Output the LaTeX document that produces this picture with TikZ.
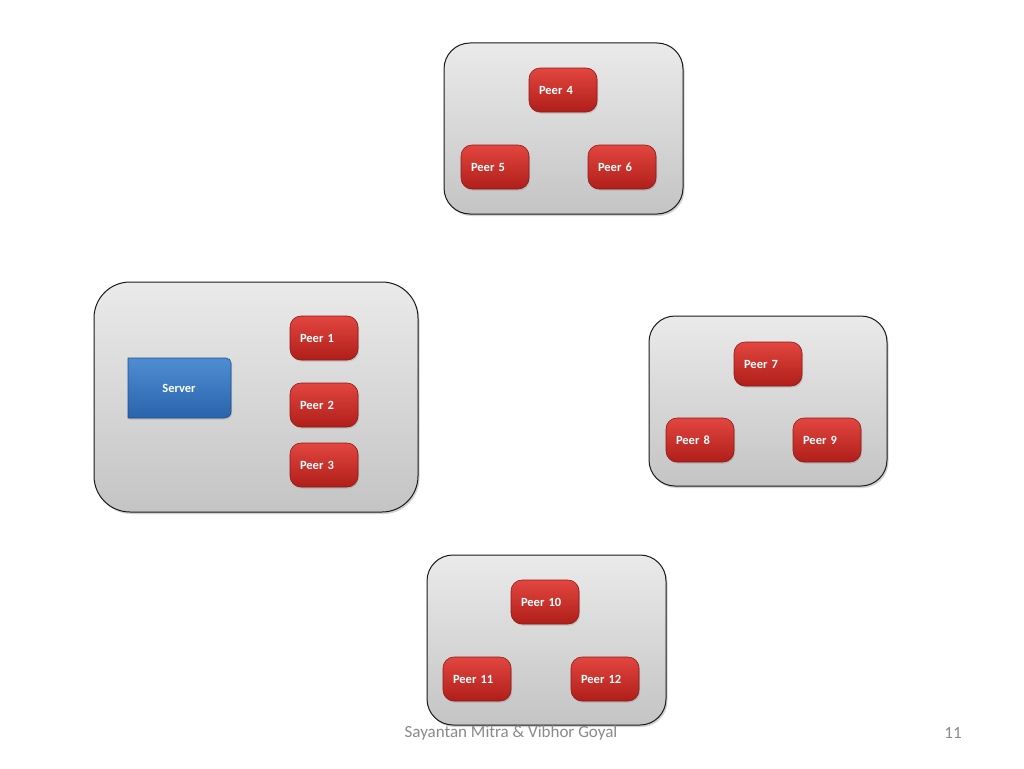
\documentclass[tikz,border=0pt]{standalone}
\usepackage{fontspec}
\setmainfont{Carlito}
\usetikzlibrary{positioning, shadows}
\definecolor{bordegrupo}{HTML}{1A1A1A}
\definecolor{grisclaro}{HTML}{EAEAEA}
\definecolor{grisoscuro}{HTML}{C4C4C4}
\definecolor{rojoclaro}{HTML}{E2463F}
\definecolor{rojooscuro}{HTML}{B01E1A}
\definecolor{rojoborde}{HTML}{8E1A16}
\definecolor{azulclaro}{HTML}{4F8DD2}
\definecolor{azuloscuro}{HTML}{2A64AC}
\definecolor{azulborde}{HTML}{1F4F8A}
\definecolor{pie}{HTML}{8A8A8A}

\begin{document}
\begin{tikzpicture}[x=1pt, y=-1pt,
			group/.style={rounded corners=26pt, draw=bordegrupo, line width=1pt,
			              top color=grisclaro, bottom color=grisoscuro,
			              drop shadow={shadow xshift=1.5pt, shadow yshift=-2pt, opacity=0.35}},
			peer/.style={rounded corners=11pt, draw=rojoborde, line width=0.6pt,
			             top color=rojoclaro, bottom color=rojooscuro,
			             minimum width=68pt, minimum height=44pt, inner sep=0pt,
			             text width=48pt, align=left,
			             text=white, font=\fontsize{12.5}{14}\selectfont\bfseries,
			             drop shadow={shadow xshift=1pt, shadow yshift=-1.5pt, opacity=0.3}},
			serverbox/.style={draw=azulborde, line width=0.6pt,
			                  top color=azulclaro, bottom color=azuloscuro,
			                  drop shadow={shadow xshift=1pt, shadow yshift=-1.5pt, opacity=0.3}}]
	\useasboundingbox[fill=white] (0,0) rectangle (1024,768);
	% grupos
	\node[group, minimum width=239pt, minimum height=171pt] (top) at (563.5,128.5) {};
	\node[group, rounded corners=36pt, minimum width=324pt, minimum height=230pt] (left) at (256,397) {};
	\node[group, minimum width=238pt, minimum height=170pt] (right) at (768,401) {};
	\node[group, minimum width=239pt, minimum height=170pt] (bottom) at (546.5,640) {};
	% servidor
	\path[serverbox] (128,358) -- (226,358) to[out=0,in=90] (231,363) -- (231,412)
		to[out=-90,in=0] (224,418) -- (128,418) -- cycle;
	\node[text=white, font=\fontsize{12.5}{14}\selectfont\bfseries] (server) at (179,388) {Server};
	% peers
	\node[peer] (p1) at (324,338) {Peer 1};
	\node[peer] (p2) at (324,405) {Peer 2};
	\node[peer] (p3) at (324,465) {Peer 3};
	\node[peer] (p4) at (563,90) {Peer 4};
	\node[peer] (p5) at (495,167) {Peer 5};
	\node[peer] (p6) at (622,167) {Peer 6};
	\node[peer] (p7) at (768,364) {Peer 7};
	\node[peer] (p8) at (700,440) {Peer 8};
	\node[peer] (p9) at (827,440) {Peer 9};
	\node[peer] (p10) at (545,602) {Peer 10};
	\node[peer] (p11) at (477,679) {Peer 11};
	\node[peer] (p12) at (605,679) {Peer 12};
	% pie
	\node[text=pie, font=\fontsize{17}{20}\selectfont] (autores) at (511,733) {Sayantan Mitra \& Vibhor Goyal};
	\node[text=pie, font=\fontsize{17}{20}\selectfont] (pagina) at (953,733) {11};
\end{tikzpicture}
\end{document}
